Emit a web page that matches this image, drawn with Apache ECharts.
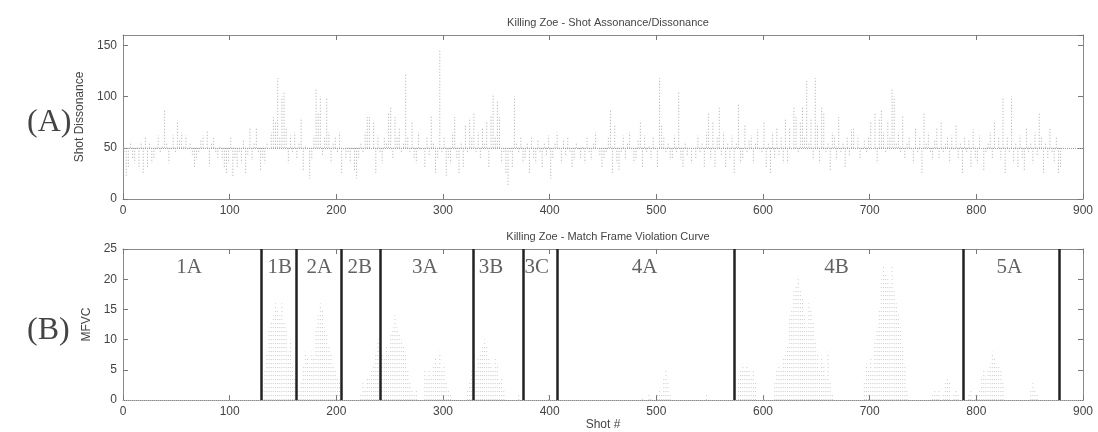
<!DOCTYPE html>
<html>
<head>
<meta charset="utf-8">
<script src="https://cdn.jsdelivr.net/npm/echarts@6/dist/echarts.min.js"></script>
<style>
html,body{margin:0;padding:0;background:#fff;}
#chart{width:1098px;height:432px;}
</style>
</head>
<body>
<div id="chart"></div>
<script>
// ---- DATA ----
const titleA = 'Killing Zoe - Shot Assonance/Dissonance';
const titleB = 'Killing Zoe - Match Frame Violation Curve';
const xTicks = [0, 100, 200, 300, 400, 500, 600, 700, 800, 900];
const baselineA = 50;
// Shot dissonance, one value per 2 shots (shots 1,3,5,...,879)
const dissonance = [
45,22,30,55,40, 35,48,30,55,25, 60,30,55,35,40, 48,62,45,52,88,
55,35,48,62,45, 75,58,65,52,62, 48,55,42,30,38, 45,58,62,50,67,
32,55,60,45,40, 52,38,30,25,35, 60,22,40,30,45, 35,58,25,42,70,
38,55,70,45,28, 40,35,55,50,65, 80,75,118,60,100, 105,70,35,62,45,
65,40,55,78,28, 52,48,20,38,62, 108,85,100,42,60, 98,65,35,55,60,
45,65,25,50,40, 45,35,48,28,20, 40,55,45,65,80, 80,50,75,25,62,
45,35,60,55,85, 90,40,80,60,70, 45,55,122,60,45, 75,40,35,65,48,
50,30,60,42,82, 55,25,40,145,45, 60,22,40,35,65, 80,40,25,55,30,
72,45,78,60,85, 45,65,40,70,55, 75,30,82,102,60, 95,80,35,45,25,
12,45,30,100,55, 45,60,35,40,55, 25,60,40,35,58, 45,30,55,42,62,
20,40,55,65,48, 35,58,42,60,45, 30,38,55,48,40, 52,35,60,45,38,
55,65,50,42,30, 40,45,60,88,25, 72,35,28,45,62, 38,55,65,48,35,
40,58,75,30,62, 45,52,38,60,48, 30,118,72,60,45, 55,38,40,62,45,
105,38,30,55,42, 48,35,50,40,62, 45,55,30,65,85, 38,75,30,60,90,
42,65,30,55,40, 62,25,55,92,35, 40,72,45,58,62, 35,55,68,48,45,
75,30,55,25,65, 40,70,42,60,35, 78,35,70,50,90, 80,45,75,90,60,
115,55,78,38,118, 72,35,90,85,45, 55,28,65,62,38, 80,45,55,30,60,
42,68,70,50,62, 40,48,58,45,60, 75,50,85,35,78, 88,65,45,75,60,
108,100,55,65,45, 82,40,55,60,48, 35,70,45,60,25, 85,55,65,45,38,
58,70,40,75,45, 55,60,35,62,48, 72,40,55,25,60, 45,58,30,68,40,
35,62,50,28,45, 55,65,40,75,50, 60,38,98,25,60, 45,100,35,55,30,
62,40,28,70,45, 55,35,65,42,85, 60,25,55,40,70, 45,35,60,25,30
];
// Match frame violation curve, one value per 2 shots (shots 1,3,...,879)
const mfvc = [
0,0,0,0,0,0,0,0,0,0, 0,0,0,0,0,0,0,0,0,0, 0,0,0,0,0,0,0,0,0,0,
0,0,0,0,0,0,0,0,0,0, 0,0,0,0,0,0,0,0,0,0, 0,0,0,0,0,0,0,0,0,0,
0,0,0,0,0,2,5,8,12,13, 14,16,15,14,16,13,12,8,10,6, 4,0,2,3,6,8,7,6,8,7,
12,14,16,15,12,11,9,8,6,5, 4,3,0,0,0,0,0,0,0,0, 0,1,3,2,4,4,5,6,8,10,
10,8,7,9,8,11,12,14,12,11, 10,9,8,5,3,2,1,2,0,0, 0,5,4,5,4,6,7,6,8,5,
6,3,2,1,0,0,0,0,0,0, 0,2,3,5,6,5,7,8,9,10, 9,7,6,5,7,6,3,4,2,0,
0,0,0,0,0,1,0,0,0,0, 0,0,0,0,0,0,0,0,0,1, 0,0,0,0,0,0,0,0,0,0,
0,0,0,0,0,0,0,0,0,0, 0,0,0,0,0,0,0,0,0,0, 0,0,0,0,0,0,0,0,0,0,
0,0,0,0.5,0,0,1,0.5,0,0, 1,2,1,4,5,3,1,0,0,0, 0,0,0,0,0,0,0,0,0,0,
0,0,0,1,0,0,0,0,0,0, 0,0,0,0,0,0,0,0,4,5, 6,5,6,5,4,5,3,0,0,0,
1,0,0,0,0,3,5,6,5,7, 8,9,14,15,18,19,20,18,17,14, 12,16,15,13,10,8,5,7,6,4,
8,3,1,0,0,0,0,0,0,0, 0,0,0,0,0,0,0,3,6,5, 7,5,10,12,15,20,22,21,20,19,
22,18,16,14,12,9,6,2,0,0, 0,0,0,0,0,0,0,0,0,1, 2,1,2,0,1,3,4,3,0,1,
2,1,0,0,0,0,1,2,0,1, 1,2,4,5,4,5,6,8,7,6, 6,5,3,0,0,0,0,0,0,0,
0,0,0,0,0,2,3,2,1,0, 0,0,0,0,0,0,0,0,0,0
];
const actBounds = [130, 162, 205, 241, 328, 375, 407, 573, 788, 878];
const actNames  = ['1A','1B','2A','2B','3A','3B','3C','4A','4B','5A'];
const actNameX  = [62, 147, 184, 222, 283, 345, 388, 489, 669, 831];
const actNameY  = 22;

// ---- BUILD ----
const shotOf = i => 2 * i + 1;
const stemA = dissonance.map((v, i) => [shotOf(i), v]);
const stemB = mfvc.map((v, i) => [shotOf(i), v]);
const labelsB = actNames.map((n, i) => [actNameX[i], actNameY, n]);

function stemRenderer(base, color, dash) {
  return function (params, api) {
    const p0 = api.coord([api.value(0), base]);
    const p1 = api.coord([api.value(0), api.value(1)]);
    return {
      type: 'line',
      shape: { x1: p0[0], y1: p0[1], x2: p1[0], y2: p1[1] },
      style: { stroke: color, lineWidth: 1, lineDash: dash }
    };
  };
}

const tickFont = { fontFamily: 'Liberation Sans, Arial, sans-serif', fontSize: 12, color: '#444' };
const axisLineStyle = { color: '#8a8a8a', width: 1 };
const tickStyle = { show: true, inside: true, length: 5, lineStyle: { color: '#777' } };

function xAx(gridIndex, bottomName) {
  return [{
    gridIndex, type: 'value', min: 0, max: 900, interval: 100, position: 'bottom',
    axisLine: { show: true, onZero: false, lineStyle: axisLineStyle },
    axisTick: tickStyle,
    axisLabel: Object.assign({ margin: 6 }, tickFont),
    splitLine: { show: false },
    name: bottomName || '', nameLocation: 'middle', nameGap: 17,
    nameTextStyle: { fontFamily: 'Liberation Sans, Arial, sans-serif', fontSize: 12, color: '#444' }
  }, {
    gridIndex, type: 'value', min: 0, max: 900, interval: 100, position: 'top',
    axisLine: { show: true, onZero: false, lineStyle: axisLineStyle },
    axisTick: tickStyle,
    axisLabel: { show: false }, splitLine: { show: false }
  }];
}
function yAx(gridIndex, max, interval, name, gap) {
  return [{
    gridIndex, type: 'value', min: 0, max, interval, position: 'left',
    axisLine: { show: true, onZero: false, lineStyle: axisLineStyle },
    axisTick: tickStyle,
    axisLabel: Object.assign({ margin: 6, showMaxLabel: max % interval === 0 }, tickFont),
    splitLine: { show: false },
    name, nameLocation: 'middle', nameGap: gap,
    nameTextStyle: { fontFamily: 'Liberation Sans, Arial, sans-serif', fontSize: 12, color: '#444' }
  }, {
    gridIndex, type: 'value', min: 0, max, interval, position: 'right',
    axisLine: { show: true, onZero: false, lineStyle: axisLineStyle },
    axisTick: tickStyle,
    axisLabel: { show: false }, splitLine: { show: false }
  }];
}

const chart = echarts.init(document.getElementById('chart'), null, { renderer: 'canvas' });
chart.setOption({
  animation: false,
  backgroundColor: '#ffffff',
  title: [
    { text: titleA, left: 603, top: 12, textAlign: 'center',
      textStyle: { fontFamily: 'Liberation Sans, Arial, sans-serif', fontSize: 11, fontWeight: 'normal', color: '#444' } },
    { text: titleB, left: 603, top: 226, textAlign: 'center',
      textStyle: { fontFamily: 'Liberation Sans, Arial, sans-serif', fontSize: 11, fontWeight: 'normal', color: '#444' } }
  ],
  graphic: [
    { type: 'text', left: 27, top: 107, style: { text: '(A)', font: '32px "Liberation Serif", serif', fill: '#444' } },
    { type: 'text', left: 27, top: 315, style: { text: '(B)', font: '32px "Liberation Serif", serif', fill: '#444' } }
  ],
  grid: [
    { left: 123, right: 15, top: 35, height: 164, show: false },
    { left: 123, right: 15, top: 249, height: 163.5, show: false }
  ],
  xAxis: [].concat(xAx(0, ''), xAx(1, 'Shot #')),
  yAxis: [].concat(yAx(0, 160, 50, 'Shot Dissonance', 32), yAx(1, 25, 5, 'MFVC', 28)),
  series: [
    {
      type: 'custom', xAxisIndex: 0, yAxisIndex: 0, data: stemA,
      renderItem: stemRenderer(baselineA, '#a8a8a8', [1, 2]), silent: true,
      markLine: { silent: true, symbol: 'none', label: { show: false },
        lineStyle: { color: '#a0a0a0', width: 1, type: [1, 1] },
        data: [{ yAxis: baselineA }] }
    },
    {
      type: 'custom', xAxisIndex: 2, yAxisIndex: 2, data: stemB,
      renderItem: stemRenderer(0, '#c8c8c8', [1, 3]), silent: true,
      markLine: { silent: true, symbol: 'none', label: { show: false },
        lineStyle: { color: '#222', width: 2.5, type: 'solid' },
        data: actBounds.map(b => ({ xAxis: b })) }
    },
    {
      type: 'line', xAxisIndex: 2, yAxisIndex: 2, data: [], silent: true,
      markLine: { silent: true, symbol: 'none', label: { show: false },
        lineStyle: { color: '#b8b8b8', width: 1, type: [1, 1] },
        data: [{ yAxis: 0 }] }
    },
    {
      type: 'scatter', xAxisIndex: 2, yAxisIndex: 2, data: labelsB, symbolSize: 0, silent: true,
      label: { show: true, position: 'inside', formatter: p => p.data[2],
        fontFamily: 'Liberation Serif, Times New Roman, serif', fontSize: 21, color: '#3a3a3a' }
    }
  ]
});
</script>
</body>
</html>
